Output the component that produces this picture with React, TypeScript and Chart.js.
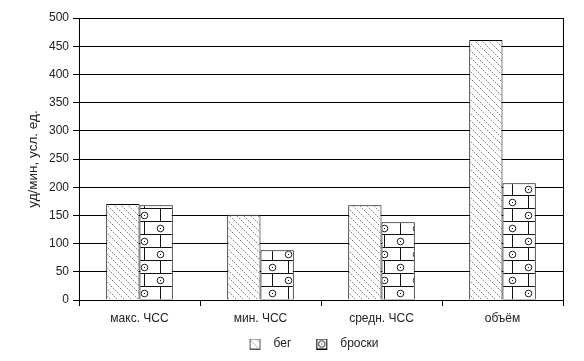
import { useEffect, useRef } from "react";
import { Chart, registerables } from "chart.js";

Chart.register(...registerables);

const categories = ["макс. ЧСС", "мин. ЧСС", "средн. ЧСС", "объём"];
const seriesNames = ["бег", "броски"];
const runValues = [170, 151, 168, 461];
const throwValues = [168, 88, 138, 207];
const yMin = 0;
const yMax = 500;
const yStep = 50;
const yTitle = "уд/мин, усл. ед.";

const FONT = { family: "'Liberation Sans', Arial, sans-serif", size: 12 };
const TITLE_FONT = { family: "'Liberation Sans', Arial, sans-serif", size: 13.5 };
const TEXT = "#222";

function hatchTile() {
  const c = document.createElement("canvas");
  c.width = 14;
  c.height = 14;
  const g = c.getContext("2d")!;
  g.fillStyle = "#fff";
  g.fillRect(0, 0, 14, 14);
  for (let i = 0; i < 14; i++) {
    g.fillStyle = i % 2 === 0 ? "#8a8a8a" : "#dddddd";
    g.fillRect(i, i, 1, 1);
    g.fillRect((i + 7) % 14, i, 1, 1);
  }
  return c;
}

function brickTile() {
  const W = 32;
  const H = 26;
  const c = document.createElement("canvas");
  c.width = W;
  c.height = H;
  const g = c.getContext("2d")!;
  g.fillStyle = "#fff";
  g.fillRect(0, 0, W, H);
  g.fillStyle = "#111";
  g.fillRect(0, 0, W, 1);
  g.fillRect(0, 13, W, 1);
  g.fillRect(0, 0, 1, 13);
  g.fillRect(16, 13, 1, 13);
  const circle = (x: number, y: number) => {
    g.beginPath();
    g.arc(x + 0.5, y + 0.5, 3.3, 0, Math.PI * 2);
    g.strokeStyle = "#222";
    g.lineWidth = 1;
    g.stroke();
    g.fillStyle = "#111";
    g.fillRect(x, y, 1, 1);
  };
  circle(16, 7);
  circle(0, 20);
  circle(32, 20);
  return c;
}

// legend swatch: blank lead-in, an 11px patterned box, blank gap before text
function swatch(tile: HTMLCanvasElement, border: string, ox: number, oy: number) {
  const c = document.createElement("canvas");
  c.width = 33;
  c.height = 11;
  const g = c.getContext("2d")!;
  const p = g.createPattern(tile, "repeat")!;
  g.save();
  g.translate(-ox, -oy);
  g.fillStyle = p;
  g.fillRect(15 + ox, oy, 11, 11);
  g.restore();
  g.strokeStyle = border;
  g.lineWidth = 1;
  g.strokeRect(15.5, 0.5, 10, 10);
  return c;
}

const shiftLegend = {
  id: "shiftLegend",
  afterLayout(chart: any) {
    if (chart.legend) {
      chart.legend.left += 50;
    }
  },
};

export default function App() {
  const ref = useRef<HTMLCanvasElement | null>(null);

  useEffect(() => {
    document.body.style.margin = "0";
    const canvas = ref.current!;
    const ctx = canvas.getContext("2d")!;
    const hTile = hatchTile();
    const bTile = brickTile();
    const swatches = [swatch(hTile, "#555", 0, 0), swatch(bTile, "#000", -4, 2)];
    const chart = new Chart(canvas, {
      type: "bar",
      data: {
        labels: categories,
        datasets: [
          {
            label: seriesNames[0],
            data: runValues,
            backgroundColor: ctx.createPattern(hTile, "repeat")!,
            borderColor: "#000",
            borderWidth: 1,
          },
          {
            label: seriesNames[1],
            data: throwValues,
            backgroundColor: ctx.createPattern(bTile, "repeat")!,
            borderColor: "#000",
            borderWidth: 1,
          },
        ],
      },
      plugins: [shiftLegend],
      options: {
        responsive: false,
        animation: false,
        events: [],
        layout: { padding: { left: 0, right: 21, top: 18, bottom: 1 } },
        datasets: { bar: { categoryPercentage: 0.55, barPercentage: 1 } },
        plugins: {
          tooltip: { enabled: false },
          legend: {
            display: true,
            position: "bottom",
            labels: {
              usePointStyle: true,
              pointStyleWidth: 33,
              boxWidth: 11,
              boxHeight: 11,
              padding: 10,
              color: TEXT,
              font: FONT,
              generateLabels: (chart: any) =>
                Chart.defaults.plugins.legend.labels
                  .generateLabels(chart)
                  .map((item: any, i: number) => ({ ...item, pointStyle: swatches[i] })),
            },
          },
        },
        scales: {
          x: {
            grid: {
              drawOnChartArea: false,
              tickLength: 6,
              color: "#000",
            },
            border: { color: "#000" },
            ticks: { color: TEXT, font: FONT, padding: 5 },
            afterFit: (s: any) => {
              s.height = 28;
            },
          },
          y: {
            min: yMin,
            max: yMax,
            ticks: { stepSize: yStep, color: TEXT, font: FONT, padding: 4 },
            grid: { color: "#000", tickLength: 6 },
            border: { color: "#000" },
            title: {
              display: true,
              text: yTitle,
              color: TEXT,
              font: TITLE_FONT,
              padding: { top: 25, bottom: 0 },
            },
            afterFit: (s: any) => {
              s.width = 79;
            },
          },
          y2: {
            position: "right",
            display: true,
            ticks: { display: false },
            grid: { drawOnChartArea: false, drawTicks: false },
            border: { color: "#000" },
            afterFit: (s: any) => {
              s.width = 0;
            },
          },
        },
      },
    });
    return () => chart.destroy();
  }, []);

  return <canvas ref={ref} width={584} height={361} style={{ display: "block" }} />;
}
